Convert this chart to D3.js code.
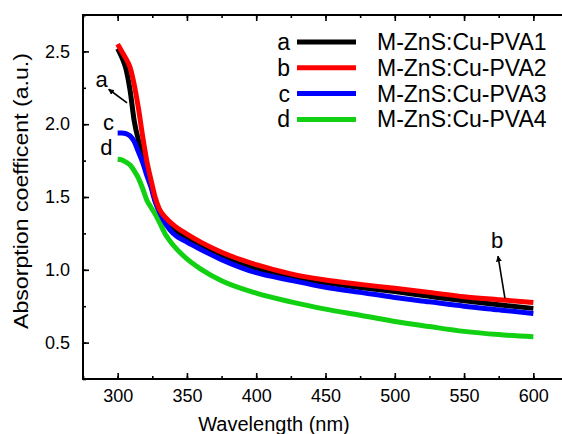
<!DOCTYPE html>
<html>
<head>
<meta charset="utf-8">
<script src="https://cdn.jsdelivr.net/npm/d3@7"></script>
<style>
  body { margin: 0; background: #fff; }
  svg { display: block; font-family: Arial, "Liberation Sans", sans-serif; }
</style>
</head>
<body>
<svg id="chart" width="562" height="434"></svg>
<script>
const wavelength = [300, 303, 306, 309, 312, 315, 318, 321, 324, 327, 330, 335, 340, 350, 360, 375, 400, 425, 450, 475, 500, 525, 550, 575, 600];

const pva1 = [2.52, 2.46, 2.38, 2.23, 2.02, 1.89, 1.79, 1.70, 1.59, 1.48, 1.41, 1.33, 1.28, 1.22, 1.165, 1.09, 1.005, 0.952, 0.91, 0.878, 0.85, 0.818, 0.787, 0.76, 0.735];
const pva2 = [2.55, 2.50, 2.45, 2.39, 2.27, 2.11, 1.92, 1.75, 1.62, 1.50, 1.42, 1.355, 1.31, 1.245, 1.19, 1.12, 1.035, 0.972, 0.93, 0.90, 0.873, 0.845, 0.815, 0.795, 0.775];
const pva3 = [1.94, 1.94, 1.935, 1.92, 1.88, 1.81, 1.74, 1.65, 1.57, 1.47, 1.40, 1.31, 1.25, 1.19, 1.14, 1.07, 0.98, 0.928, 0.88, 0.845, 0.81, 0.78, 0.75, 0.725, 0.70];
const pva4 = [1.76, 1.755, 1.74, 1.72, 1.68, 1.63, 1.56, 1.48, 1.43, 1.385, 1.33, 1.235, 1.17, 1.075, 1.005, 0.925, 0.84, 0.78, 0.73, 0.688, 0.645, 0.61, 0.577, 0.555, 0.54];

const letters = ['a', 'b', 'c', 'd'];
const names = ['M-ZnS:Cu-PVA1', 'M-ZnS:Cu-PVA2', 'M-ZnS:Cu-PVA3', 'M-ZnS:Cu-PVA4'];
const colors = ['#000000', '#ff0000', '#0000ff', '#12d012'];
const values = [pva1, pva2, pva3, pva4];

const xTicks = [300, 350, 400, 450, 500, 550, 600];
const yTicks = [0.5, 1.0, 1.5, 2.0, 2.5];

const MARGINS = { top: 15, right: -6, bottom: 55, left: 83 };
const width = 562, height = 434;

const svg = d3.select('#chart');

const xScale = d3.scaleLinear()
  .domain([275, 625])
  .range([MARGINS.left, width - MARGINS.right]);

const yScale = d3.scaleLinear()
  .domain([0.25, 2.75])
  .range([height - MARGINS.bottom, MARGINS.top]);

const x0 = xScale.range()[0], x1 = xScale.range()[1];
const y0 = yScale.range()[0], y1 = yScale.range()[1];

// minor ticks every 25 / 0.25
const minorX = d3.range(275, 626, 25);
const minorY = d3.range(0.25, 2.76, 0.25);

function styleAxis(g) {
  g.selectAll('path.domain').remove();
  g.selectAll('line').attr('stroke', '#000').attr('stroke-width', 1.6);
  g.selectAll('text').attr('fill', '#000').attr('font-size', 18);
}

// bottom
svg.append('g').attr('transform', `translate(0,${y0})`)
  .call(d3.axisBottom(xScale).tickValues(minorX).tickSize(-3).tickFormat(''))
  .call(styleAxis);
svg.append('g').attr('transform', `translate(0,${y0})`)
  .call(d3.axisBottom(xScale).tickValues(xTicks).tickSize(-6).tickPadding(10).tickFormat(d3.format('d')))
  .call(styleAxis);
// top
svg.append('g').attr('transform', `translate(0,${y1})`)
  .call(d3.axisTop(xScale).tickValues(minorX).tickSize(-3).tickFormat(''))
  .call(styleAxis);
svg.append('g').attr('transform', `translate(0,${y1})`)
  .call(d3.axisTop(xScale).tickValues(xTicks).tickSize(-6).tickFormat(''))
  .call(styleAxis);
// left
svg.append('g').attr('transform', `translate(${x0},0)`)
  .call(d3.axisLeft(yScale).tickValues(minorY).tickSize(-3).tickFormat(''))
  .call(styleAxis);
svg.append('g').attr('transform', `translate(${x0},0)`)
  .call(d3.axisLeft(yScale).tickValues(yTicks).tickSize(-6).tickPadding(13).tickFormat(d3.format('.1f')))
  .call(styleAxis);
// right
svg.append('g').attr('transform', `translate(${x1},0)`)
  .call(d3.axisRight(yScale).tickValues(minorY).tickSize(-3).tickFormat(''))
  .call(styleAxis);
svg.append('g').attr('transform', `translate(${x1},0)`)
  .call(d3.axisRight(yScale).tickValues(yTicks).tickSize(-6).tickFormat(''))
  .call(styleAxis);

// frame
svg.append('rect')
  .attr('x', x0).attr('y', y1)
  .attr('width', x1 - x0).attr('height', y0 - y1)
  .attr('fill', 'none').attr('stroke', '#000').attr('stroke-width', 2);

// curves
const line = d3.line()
  .x((d, i) => xScale(wavelength[i]))
  .y(d => yScale(d))
  .curve(d3.curveMonotoneX);

const drawOrder = [0, 3, 2, 1];
drawOrder.forEach(k => {
  svg.append('path')
    .datum(values[k])
    .attr('fill', 'none')
    .attr('stroke', colors[k])
    .attr('stroke-width', 5)
    .attr('stroke-linecap', 'butt')
    .attr('stroke-linejoin', 'round')
    .attr('d', line);
});

// legend
const legend = svg.append('g');
letters.forEach((l, i) => {
  const yy = 42 + i * 25.8;
  legend.append('text')
    .attr('x', 290).attr('y', yy + 8)
    .attr('text-anchor', 'end')
    .attr('font-size', 23)
    .text(l);
  legend.append('line')
    .attr('x1', 297).attr('x2', 356)
    .attr('y1', yy).attr('y2', yy)
    .attr('stroke', colors[i]).attr('stroke-width', 5);
  legend.append('text')
    .attr('x', 377).attr('y', yy + 8)
    .attr('font-size', 23)
    .text(names[i]);
});

// annotations (data coordinates)
const notes = [
  { text: 'a', w: 284, v: 2.254 },
  { text: 'c', w: 289.5, v: 1.96 },
  { text: 'd', w: 287.5, v: 1.787 },
  { text: 'b', w: 569.5, v: 1.149 }
];
const arrows = [
  { from: [306.8, 2.146], to: [293.5, 2.24] },
  { from: [579.5, 0.804], to: [574.5, 1.094] }
];

svg.append('defs').append('marker')
  .attr('id', 'head')
  .attr('viewBox', '0 0 10 10')
  .attr('refX', 9).attr('refY', 5)
  .attr('markerWidth', 6).attr('markerHeight', 6)
  .attr('markerUnits', 'userSpaceOnUse')
  .attr('orient', 'auto')
  .append('path')
  .attr('d', 'M0,0 L10,5 L0,10 z')
  .attr('fill', '#000');

notes.forEach(n => {
  svg.append('text')
    .attr('x', xScale(n.w)).attr('y', yScale(n.v))
    .attr('font-size', 22)
    .text(n.text);
});
arrows.forEach(a => {
  svg.append('line')
    .attr('x1', xScale(a.from[0])).attr('y1', yScale(a.from[1]))
    .attr('x2', xScale(a.to[0])).attr('y2', yScale(a.to[1]))
    .attr('stroke', '#000').attr('stroke-width', 1.6)
    .attr('marker-end', 'url(#head)');
});

// axis titles
svg.append('text')
  .attr('x', 274).attr('y', 431)
  .attr('text-anchor', 'middle')
  .attr('font-size', 20)
  .text('Wavelength (nm)');

svg.append('text')
  .attr('transform', `translate(28,191) rotate(-90)`)
  .attr('text-anchor', 'middle')
  .attr('font-size', 20)
  .attr('textLength', 276)
  .attr('lengthAdjust', 'spacingAndGlyphs')
  .text('Absorption coefficent (a.u.)');
</script>
</body>
</html>
